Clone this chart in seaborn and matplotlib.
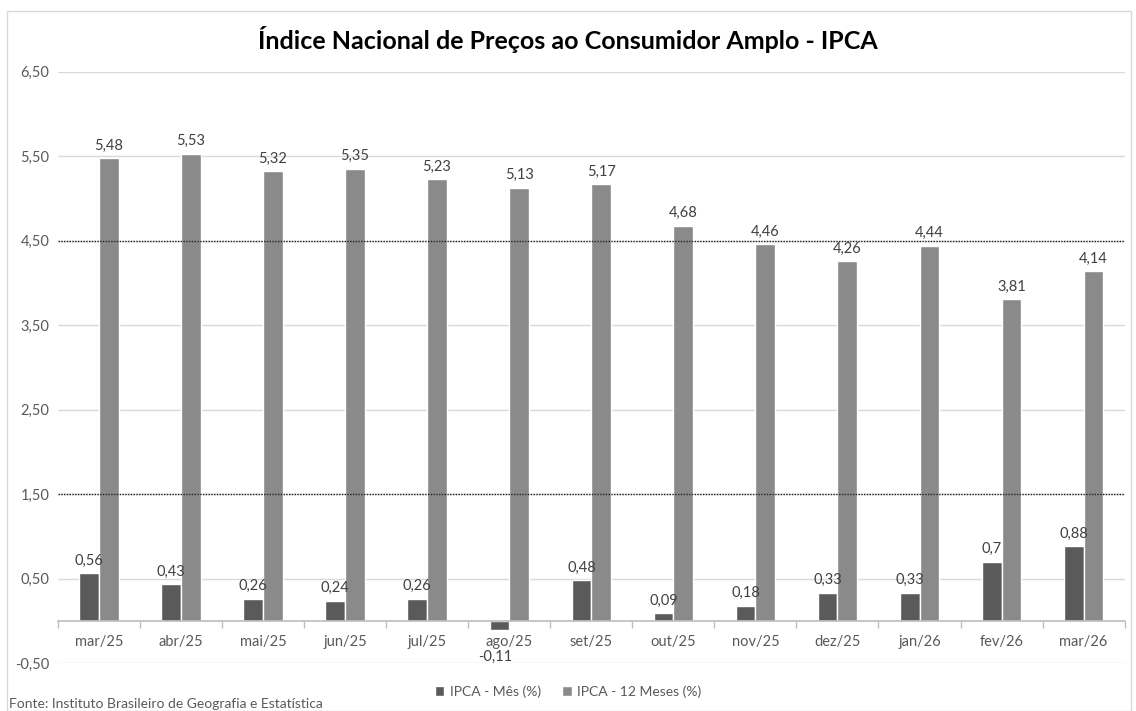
import matplotlib.pyplot as plt
import matplotlib.ticker as mticker
import numpy as np
import pandas as pd
import seaborn as sns

meses = ['mar/25', 'abr/25', 'mai/25', 'jun/25', 'jul/25', 'ago/25', 'set/25',
         'out/25', 'nov/25', 'dez/25', 'jan/26', 'fev/26', 'mar/26']
ipca_mes = [0.56, 0.43, 0.26, 0.24, 0.26, -0.11, 0.48, 0.09, 0.18, 0.33, 0.33, 0.7, 0.88]
ipca_12m = [5.48, 5.53, 5.32, 5.35, 5.23, 5.13, 5.17, 4.68, 4.46, 4.26, 4.44, 3.81, 4.14]
series = ['IPCA - Mês (%)', 'IPCA - 12 Meses (%)']
cores = ['#5a5a5a', '#8a8a8a']
meta = [1.5, 4.5]  # banda da meta (linhas pontilhadas)

df = pd.DataFrame({
    'mes': meses * 2,
    'serie': [series[0]] * len(meses) + [series[1]] * len(meses),
    'valor': ipca_mes + ipca_12m,
})

sns.set_theme(style='white')
plt.rcParams['font.family'] = ['Lato', 'DejaVu Sans']
TXT = '#595959'

fig = plt.figure(figsize=(11.36, 7.11), dpi=100)
ax = fig.add_axes([0.051, 0.0675, 0.939, 0.8315])

sns.barplot(data=df, x='mes', y='valor', hue='serie', palette=cores,
            width=0.48, ax=ax, legend=True, saturation=1)

ax.set_ylim(-0.5, 6.5)
ax.set_xlim(-0.5, len(meses) - 0.5)
ax.set_yticks(np.arange(-0.5, 6.6, 1.0))
ax.yaxis.set_major_formatter(mticker.FuncFormatter(lambda v, p: f'{v:.2f}'.replace('.', ',')))
ax.grid(axis='y', color='#d9d9d9', linewidth=1)
ax.set_axisbelow(True)
for m in meta:
    ax.axhline(m, color='#222222', linestyle=(0, (1, 1)), linewidth=1, zorder=1.5)

for s in ['top', 'right', 'left']:
    ax.spines[s].set_visible(False)
ax.spines['bottom'].set_position(('data', 0))
ax.spines['bottom'].set_color('#bfbfbf')
ax.set_xticks(range(len(meses)))
ax.set_xticklabels(meses)
ax.set_xticks(np.arange(-0.5, len(meses), 1), minor=True)
ax.tick_params(axis='x', which='major', length=0, pad=10, labelsize=10.5, colors=TXT)
ax.tick_params(axis='x', which='minor', length=5, color='#bfbfbf', bottom=True)
ax.tick_params(axis='y', length=0, labelsize=10.5, colors=TXT, pad=6)
ax.set_xlabel('')
ax.set_ylabel('')

fmt = lambda v: str(v).replace('.', ',')
for cont, vals in zip(ax.containers, [ipca_mes, ipca_12m]):
    anns = ax.bar_label(cont, labels=[fmt(v) for v in vals], padding=4, fontsize=10.5, color='#404040')
    for a, v in zip(anns, vals):
        if v < 0:
            a.xyann = (-3, -14)

handles, labels = ax.get_legend_handles_labels()
ax.get_legend().remove()
fig.legend(handles, labels, loc='center', bbox_to_anchor=(0.5, 0.027), ncol=2, frameon=False,
           fontsize=10, handlelength=0.7, handleheight=0.7, columnspacing=1.5, handletextpad=0.4,
           labelcolor=TXT)

fig.text(0.5, 0.945, 'Índice Nacional de Preços ao Consumidor Amplo - IPCA', ha='center', va='center',
         fontsize=18, fontweight='bold', color='black')
fig.text(0.008, 0.01, 'Fonte: Instituto Brasileiro de Geografia e Estatística', ha='left', va='center',
         fontsize=10, color=TXT)

fig.patches.append(plt.Rectangle((0.006, 0.0), 0.99, 0.985, transform=fig.transFigure,
                                 fill=False, edgecolor='#d9d9d9', linewidth=1))

fig.savefig('out.png', dpi=100)
